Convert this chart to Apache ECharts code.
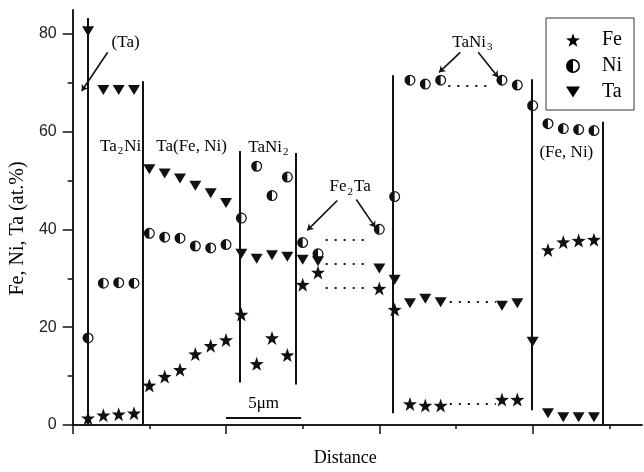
<!DOCTYPE html>
<html>
<head>
<meta charset="utf-8">
<script src="https://cdn.jsdelivr.net/npm/echarts@6/dist/echarts.min.js"></script>
<style>html,body{margin:0;padding:0;background:#fff}#c{width:644px;height:472px}</style>
</head>
<body>
<div id="c"></div>
<script>
// distance positions (µm-like steps) of the analysis points
const positions = [1,2,3,4,5,6,7,8,9,10,11,12,13,14,15,16,20,21,22,23,24,28,29,30,31,32,33,34];
const feValues = [1.4,2.0,2.2,2.4,8.1,9.9,11.3,14.5,16.2,17.4,22.6,12.5,17.8,14.3,28.7,31.2,27.9,23.6,4.3,4.0,4.0,5.2,5.2,null,35.8,37.4,37.7,37.9];
const niValues = [17.8,29.0,29.1,29.0,39.2,38.4,38.2,36.6,36.2,36.9,42.3,52.9,46.9,50.7,37.3,35.0,40.0,46.7,70.5,69.7,70.5,70.5,69.5,65.3,61.6,60.6,60.4,60.2];
const taValues = [80.5,68.5,68.5,68.5,52.3,51.4,50.4,48.9,47.4,45.4,35.0,34.0,34.7,34.4,33.8,33.5,32.0,29.7,24.9,25.8,25.1,24.4,24.9,17.0,2.4,1.6,1.6,1.6];
const seriesNames = ['Fe','Ni','Ta'];
const yMajorTicks = [0,20,40,60,80];
const yMinorTicks = [10,30,50,70];
const xMajorTicks = [0,10,20,30];
const xMinorTicks = [5,15,25,35];

// phase boundaries: x, bottom, top
const boundaryX = [1, 4.55, 10.88, 14.53, 20.9, 29.97, 34.55];
const boundaryBottom = [0, 0, 8.7, 8.3, 2.4, 3.0, 0];
const boundaryTop = [83.2, 70.3, 56.0, 55.6, 71.5, 70.7, 62.0];

// dotted gap lines: x start, x end, level
const gapStart = [16.5, 16.5, 16.5, 24.5, 24.6, 24.6];
const gapEnd = [19.2, 19.2, 19.2, 27.4, 27.6, 27.6];
const gapLevel = [37.8, 32.9, 28.1, 69.3, 25.1, 4.4];

// arrows: from (label) to tip
const arrowFrom = [[2.28,76.2],[17.26,45.9],[18.5,46.1],[25.28,76.2],[26.45,76.2]];
const arrowTo = [[0.59,68.3],[15.3,39.8],[19.74,40.4],[23.9,72.1],[27.75,71.1]];

// scale bar
const scaleBar = [[10,1.4],[14.9,1.4]];

// annotation texts ( _n = subscript n )
const noteTexts = ['(Ta)','Ta_2Ni','Ta(Fe, Ni)','TaNi_2','Fe_2Ta','TaNi_3','(Fe, Ni)','5μm'];
const noteX = [3.45, 3.13, 7.75, 12.8, 18.1, 26.1, 32.2, 12.45];
const noteY = [78.2, 57.0, 57.0, 56.8, 48.7, 78.2, 55.8, 4.4];

const SERIF = '"Liberation Serif", "Times New Roman", serif';
const SANS = '"Liberation Sans", Arial, sans-serif';
const INK = '#000000';

const STAR = 'path://M0,-10 L2.35,-3.24 L9.51,-3.09 L3.8,1.24 L5.88,8.09 L0,4 L-5.88,8.09 L-3.8,1.24 L-9.51,-3.09 L-2.35,-3.24 Z';
const HALF = 'path://M0,-10 A10,10 0 0,0 0,10 Z M0,-10 A10,10 0 0,1 0,10 L0,7.8 A7.8,7.8 0 0,0 0,-7.8 Z';
const TRI = 'path://M-10,-8 L10,-8 L0,8 Z';

function pairs(vals){ const out=[]; positions.forEach((p,i)=>{ if(vals[i]!==null) out.push([p, vals[i]]); }); return out; }
function richText(t){ return '{a|' + t.replace(/_(\d)/g, '}{s|$1}{a|') + '}'; }

const xMax = 570/15.35;
const yMax = 420/4.95;
const lineSt = {color: '#111', width: 1.5};

function tickAxisX(ticks, len, showLine, extra){
  return Object.assign({
    type: 'value', min: 0, max: xMax, position: 'bottom',
    axisLine: {show: showLine, onZero: false, lineStyle: lineSt},
    axisTick: {show: true, length: len, lineStyle: lineSt, customValues: ticks},
    axisLabel: {show: false, customValues: ticks},
    splitLine: {show: false}
  }, extra || {});
}
function tickAxisY(ticks, len, showLine, extra){
  return Object.assign({
    type: 'value', min: 0, max: yMax, position: 'left',
    axisLine: {show: showLine, onZero: false, lineStyle: lineSt},
    axisTick: {show: true, length: len, lineStyle: lineSt, customValues: ticks},
    axisLabel: {show: false, customValues: ticks},
    splitLine: {show: false}
  }, extra || {});
}

const chart = echarts.init(document.getElementById('c'), null, {renderer:'canvas'});
chart.setOption({
  backgroundColor: '#fff',
  animation: false,
  grid: {left: 72, right: 2, top: 10, bottom: 42, containLabel: false},
  legend: {
    data: [{name:'Fe', icon: STAR},{name:'Ni', icon: HALF},{name:'Ta', icon: TRI}],
    orient: 'vertical', left: 546, top: 18,
    padding: [12, 12, 8, 20],
    itemWidth: 14, itemHeight: 14, itemGap: 6,
    borderColor: '#333', borderWidth: 1,
    textStyle: {fontFamily: SERIF, fontSize: 20, color: INK, lineHeight: 20, padding: [0,0,0,17]},
    itemStyle: {color: INK, borderWidth: 0}
  },
  xAxis: [
    tickAxisX(xMajorTicks, 9, true, {
      name: 'Distance', nameLocation: 'middle', nameGap: 24,
      nameTextStyle: {fontFamily: SERIF, fontSize: 18, color: INK, padding: [0, 24, 0, 0]}
    }),
    tickAxisX(xMinorTicks, 4, false),
    {
      type: 'value', position: 'top', min: 0, max: xMax,
      axisLine: {show: true, lineStyle: lineSt},
      axisTick: {show: false}, axisLabel: {show: false}, splitLine: {show: false}
    }
  ],
  yAxis: [
    tickAxisY(yMajorTicks, 10, true, {
      name: 'Fe, Ni, Ta (at.%)', nameLocation: 'middle', nameGap: 44,
      nameTextStyle: {fontFamily: SERIF, fontSize: 20, color: INK, padding: [0, 22, 0, 0]},
      axisLabel: {show: true, customValues: yMajorTicks, margin: 16, fontFamily: SANS, fontSize: 16, color: '#222'}
    }),
    tickAxisY(yMinorTicks, 5, false),
    {
      type: 'value', position: 'right', min: 0, max: yMax,
      axisLine: {show: true, lineStyle: lineSt},
      axisTick: {show: false}, axisLabel: {show: false}, splitLine: {show: false}
    }
  ],
  series: [
    {
      name: 'boundaries', type: 'lines', coordinateSystem: 'cartesian2d', silent: true, z: 2,
      lineStyle: {color: '#111', width: 2, opacity: 1},
      data: boundaryX.map((x,i)=>({coords: [[x, boundaryBottom[i]],[x, boundaryTop[i]]]}))
    },
    {
      name: 'gaps', type: 'lines', coordinateSystem: 'cartesian2d', silent: true, z: 2,
      lineStyle: {color: '#111', width: 2, type: [2, 7], opacity: 1},
      data: gapStart.map((x,i)=>({coords: [[x, gapLevel[i]],[gapEnd[i], gapLevel[i]]]}))
    },
    {
      name: 'arrows', type: 'lines', coordinateSystem: 'cartesian2d', silent: true, z: 2,
      symbol: ['none','arrow'], symbolSize: 6,
      lineStyle: {color: '#111', width: 1.6, opacity: 1},
      data: arrowFrom.map((f,i)=>({coords: [f, arrowTo[i]]}))
    },
    {
      name: 'scalebar', type: 'lines', coordinateSystem: 'cartesian2d', silent: true, z: 2,
      lineStyle: {color: '#111', width: 2, opacity: 1},
      data: [{coords: scaleBar}]
    },
    {
      name: 'notes', type: 'scatter', silent: true, z: 3,
      symbolSize: 0, itemStyle: {color: INK, opacity: 1},
      data: noteTexts.map((t,i)=>({value: [noteX[i], noteY[i]], text: t})),
      label: {
        show: true, position: 'inside', color: INK, opacity: 1,
        formatter: p => richText(p.data.text),
        rich: {
          a: {fontFamily: SERIF, fontSize: 17, color: INK},
          s: {fontFamily: SERIF, fontSize: 11, color: INK, padding: [10, 1, 0, 1]}
        }
      }
    },
    {
      name: 'Fe', type: 'scatter', symbol: STAR, symbolSize: 14, z: 5,
      itemStyle: {color: '#111', opacity: 1},
      data: pairs(feValues)
    },
    {
      name: 'Ni', type: 'scatter', symbol: HALF, symbolSize: 11, z: 5,
      itemStyle: {color: '#111', opacity: 1},
      data: pairs(niValues)
    },
    {
      name: 'Ta', type: 'scatter', symbol: TRI, symbolSize: [12, 10], z: 5,
      itemStyle: {color: '#111', opacity: 1},
      data: pairs(taValues)
    }
  ]
});
</script>
</body>
</html>
